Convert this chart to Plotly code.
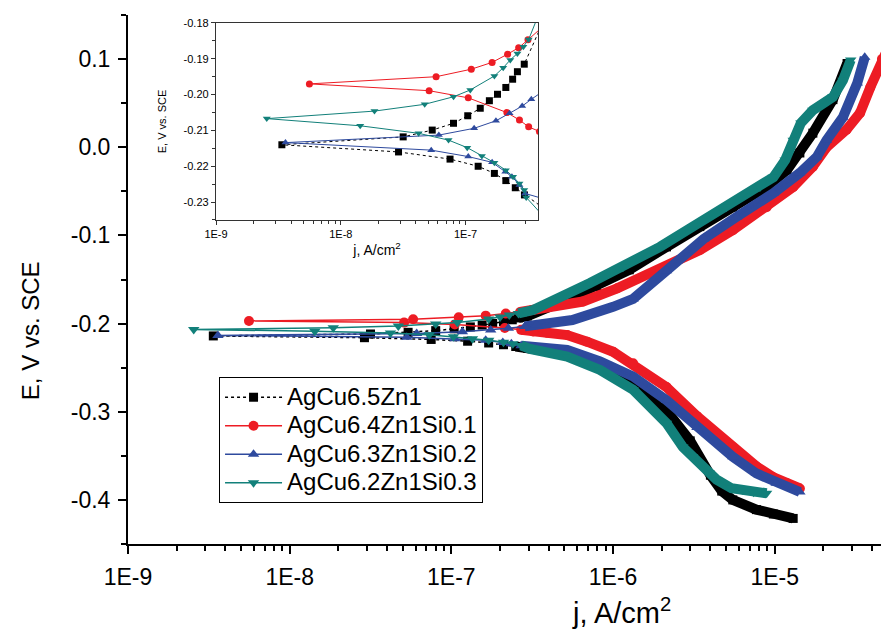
import plotly.graph_objects as go

# Potentiodynamic polarisation curves, sweep order: cathodic end -> E_corr -> anodic end
names = ["AgCu6.5Zn1", "AgCu6.4Zn1Si0.1", "AgCu6.3Zn1Si0.2", "AgCu6.2Zn1Si0.3"]

j_zn1 = [1.3e-5, 9.8e-6, 7.7e-6, 5.5e-6, 4.7e-6, 4.0e-6, 3.0e-6, 2.15e-6, 1.7e-6, 1.33e-6, 8.3e-7, 5.2e-7,
         2.96e-7, 2.5e-7, 2.1e-7, 1.7e-7, 1.26e-7, 7.5e-8, 2.9e-8, 3.37e-9,
         3.16e-8, 5.4e-8, 8.0e-8, 1.04e-7, 1.31e-7, 1.55e-7, 1.8e-7, 2.1e-7, 2.38e-7, 2.6e-7, 2.95e-7,
         5.0e-7, 7.9e-7, 1.26e-6, 2.14e-6, 3.44e-6, 5.5e-6, 8.9e-6, 1.19e-5, 1.43e-5, 1.72e-5, 2.29e-5, 2.8e-5]
e_zn1 = [-0.421, -0.416, -0.411, -0.400, -0.390, -0.372, -0.333, -0.299, -0.281, -0.266, -0.249, -0.234,
         -0.228, -0.226, -0.224, -0.222, -0.220, -0.218, -0.216, -0.214,
         -0.2118, -0.2099, -0.208, -0.2059, -0.2038, -0.2017, -0.1999, -0.198, -0.1957, -0.1936, -0.1915,
         -0.174, -0.158, -0.139, -0.113, -0.090, -0.068, -0.045, -0.026, -0.0065, 0.016, 0.054, 0.095]

j_si01 = [1.43e-5, 1.19e-5, 9.75e-6, 7.7e-6, 5.5e-6, 3.3e-6, 2.14e-6, 1.33e-6, 1.0e-6, 6.9e-7, 5.2e-7,
          3.9e-7, 3.2e-7, 2.7e-7, 2.14e-7, 1.05e-7, 5.1e-8, 5.6e-9,
          5.8e-8, 1.11e-7, 1.63e-7, 2.17e-7, 2.66e-7, 3.16e-7, 6.5e-7, 1.06e-6, 1.95e-6, 3.44e-6,
          5.5e-6, 8.9e-6, 1.3e-5, 1.72e-5, 2.09e-5, 2.78e-5, 3.37e-5, 3.9e-5, 4.6e-5, 5.0e-5]
e_si01 = [-0.387, -0.381, -0.374, -0.362, -0.340, -0.305, -0.272, -0.245, -0.232, -0.2205, -0.213,
          -0.2103, -0.209, -0.2071, -0.205, -0.2009, -0.1989, -0.197,
          -0.195, -0.1929, -0.191, -0.1887, -0.1869, -0.1847, -0.175, -0.160, -0.139, -0.1165,
          -0.094, -0.068, -0.045, -0.022, 0.000, 0.020, 0.039, 0.068, 0.100, 0.112]

j_si02 = [1.43e-5, 1.02e-5, 7.7e-6, 5.5e-6, 3.3e-6, 2.14e-6, 1.33e-6, 8.3e-7, 5.2e-7,
          3.0e-7, 2.7e-7, 2.35e-7, 2.08e-7, 1.63e-7, 1.05e-7, 5.3e-8, 3.6e-9,
          6.1e-8, 1.17e-7, 1.75e-7, 2.25e-7, 2.84e-7, 3.36e-7, 5.6e-7, 1.0e-6, 1.33e-6, 2.14e-6,
          3.63e-6, 5.8e-6, 9.8e-6, 1.43e-5, 1.82e-5, 2.09e-5, 2.64e-5, 3.24e-5, 3.6e-5]
e_si02 = [-0.391, -0.381, -0.370, -0.351, -0.318, -0.287, -0.260, -0.243, -0.230,
          -0.2276, -0.2252, -0.2229, -0.2215, -0.2189, -0.2173, -0.2155, -0.2134,
          -0.2113, -0.2094, -0.2073, -0.2052, -0.2032, -0.2013, -0.196, -0.181, -0.172, -0.140,
          -0.104, -0.079, -0.052, -0.029, -0.011, 0.008, 0.034, 0.073, 0.102]

j_si03 = [8.9e-6, 7.4e-6, 6.3e-6, 5.4e-6, 4.37e-6, 3.1e-6, 2.7e-6, 2.14e-6, 1.33e-6, 8.3e-7, 5.2e-7,
          3.06e-7, 2.95e-7, 2.7e-7, 2.4e-7, 2.1e-7, 1.7e-7, 1.35e-7, 1.03e-7, 7.3e-8, 4.2e-8, 1.43e-8, 2.55e-9,
          1.86e-8, 4.7e-8, 8.0e-8, 1.09e-7, 1.7e-7, 2.0e-7, 2.28e-7, 2.6e-7, 2.9e-7, 3.2e-7,
          7.2e-7, 1.15e-6, 1.95e-6, 3.12e-6, 5.0e-6, 8.1e-6, 9.8e-6, 1.16e-5, 1.3e-5, 1.45e-5,
          1.72e-5, 2.29e-5, 2.64e-5, 2.95e-5]
e_si03 = [-0.3925, -0.3914, -0.3887, -0.3868, -0.377, -0.351, -0.340, -0.313, -0.275, -0.2526, -0.2375,
          -0.2287, -0.2266, -0.2248, -0.2229, -0.2211, -0.219, -0.2171, -0.2148, -0.2127, -0.2108, -0.2087, -0.2067,
          -0.2046, -0.2027, -0.2006, -0.1987, -0.1948, -0.1925, -0.1903, -0.1885, -0.1866, -0.1846,
          -0.154, -0.136, -0.113, -0.090, -0.068, -0.045, -0.034, -0.0145, 0.008, 0.0275,
          0.042, 0.057, 0.076, 0.099]

x_tick_vals = [1e-9, 1e-8, 1e-7, 1e-6, 1e-5]
x_tick_labels = ["1E-9", "1E-8", "1E-7", "1E-6", "1E-5"]
y_tick_vals = [-0.4, -0.3, -0.2, -0.1, 0.0, 0.1]
y_tick_labels = ["-0.4", "-0.3", "-0.2", "-0.1", "0.0", "0.1"]
inset_y_vals = [-0.23, -0.22, -0.21, -0.20, -0.19, -0.18]
inset_y_labels = ["-0.23", "-0.22", "-0.21", "-0.20", "-0.19", "-0.18"]

series = [(j_zn1, e_zn1), (j_si01, e_si01), (j_si02, e_si02), (j_si03, e_si03)]
colors = ["#000000", "#ED1C24", "#2E4A9E", "#12807A"]
symbols = ["square", "circle", "triangle-up", "triangle-down"]
sizes = [9, 10, 10, 10]
dashes = ["dot", "solid", "solid", "solid"]

FONT = "Liberation Sans, Arial, sans-serif"
BAND_FROM = 2.5e-7

fig = go.Figure()

for name, (j, e), c, sym, sz, dash in zip(names, series, colors, symbols, sizes, dashes):
    # dense part of the curve drawn as a thick band
    k = j.index(min(j))
    bx, by = [], []
    for jj, ee in zip(j[:k + 1], e[:k + 1]):
        if jj >= BAND_FROM:
            bx.append(jj); by.append(ee)
    bx.append(None); by.append(None)
    for jj, ee in zip(j[k:], e[k:]):
        if jj >= BAND_FROM:
            bx.append(jj); by.append(ee)
    fig.add_trace(go.Scatter(x=bx, y=by, mode="lines", line=dict(color=c, width=10),
                             showlegend=False, hoverinfo="skip"))
    # legend text larger than the legend row height, as in the original
    fig.add_trace(go.Scatter(x=j, y=e, mode="lines+markers",
                             name='<span style="font-size:24px">%s</span>' % name,
                             line=dict(color=c, width=1.5, dash=dash),
                             marker=dict(symbol=sym, size=sz, color=c)))

# inset
for name, (j, e), c, sym, dash in zip(names, series, colors, symbols, dashes):
    fig.add_trace(go.Scatter(x=j, y=e, mode="lines+markers", xaxis="x2", yaxis="y2",
                             line=dict(color=c, width=1, dash=dash),
                             marker=dict(symbol=sym, size=7, color=c),
                             showlegend=False))

minor_x = [m * 10.0 ** p for p in range(-9, -4) for m in range(2, 10)]
minor_x_in = [m * 10.0 ** p for p in range(-9, -6) for m in range(2, 10)]

fig.update_layout(
    width=881, height=634,
    margin=dict(l=128, r=0, t=15, b=90, pad=0),
    paper_bgcolor="white", plot_bgcolor="white",
    font=dict(family=FONT, color="black"),
    xaxis=dict(type="log", range=[-9, -4.343], domain=[0, 1], automargin=False,
               showline=True, linecolor="black", linewidth=2, mirror=False,
               showgrid=False, zeroline=False,
               ticks="outside", ticklen=8, tickwidth=2, tickcolor="black", ticklabelstandoff=3,
               tickvals=x_tick_vals, ticktext=x_tick_labels, tickfont=dict(size=23),
               minor=dict(tickvals=minor_x, ticks="outside", ticklen=5, tickwidth=1.5, tickcolor="black")),
    yaxis=dict(range=[-0.45, 0.15], domain=[0, 1], automargin=False,
               showline=True, linecolor="black", linewidth=2, mirror=False,
               showgrid=False, zeroline=False,
               ticks="outside", ticklen=8, tickwidth=2, tickcolor="black", ticklabelstandoff=3,
               tickvals=y_tick_vals, ticktext=y_tick_labels, tickfont=dict(size=23),
               minor=dict(dtick=0.05, tick0=0, ticks="outside", ticklen=5, tickwidth=1.5, tickcolor="black")),
    xaxis2=dict(type="log", range=[-9, -6.42], domain=[0.1169, 0.5445], anchor="y2", automargin=False,
                showline=True, linecolor="#333", linewidth=1.3, mirror=True,
                showgrid=False, zeroline=False,
                ticks="outside", ticklen=4, tickwidth=1, tickcolor="#333",
                tickvals=x_tick_vals[:3], ticktext=x_tick_labels[:3], tickfont=dict(size=11),
                minor=dict(tickvals=minor_x_in, ticks="outside", ticklen=3, tickwidth=1, tickcolor="#333"),
                title=dict(text="j, A/cm<sup>2</sup>", font=dict(size=14), standoff=3)),
    yaxis2=dict(range=[-0.235, -0.18], domain=[0.6125, 0.9849], anchor="x2", automargin=False,
                showline=True, linecolor="#333", linewidth=1.3, mirror=True,
                showgrid=False, zeroline=False,
                ticks="outside", ticklen=4, tickwidth=1, tickcolor="#333",
                tickvals=inset_y_vals, ticktext=inset_y_labels, tickfont=dict(size=11),
                minor=dict(dtick=0.005, tick0=-0.18, ticks="outside", ticklen=3, tickwidth=1, tickcolor="#333"),
                title=dict(text="E, V vs. SCE", font=dict(size=11), standoff=14)),
    legend=dict(x=0.1209, y=0.3157, xanchor="left", yanchor="top",
                bgcolor="white", bordercolor="black", borderwidth=1,
                font=dict(size=19.6, family=FONT), itemwidth=57, tracegroupgap=0),
    showlegend=True,
)

# main axis titles sit off-centre in the original (the figure was cropped), so place them as annotations
fig.add_annotation(text="j, A/cm<sup>2</sup>", xref="paper", yref="paper", x=0.655, y=-0.127,
                   xanchor="center", yanchor="middle", showarrow=False, font=dict(size=29))
fig.add_annotation(text="E, V vs. SCE", xref="paper", yref="paper", x=-0.130, y=0.4026,
                   xanchor="center", yanchor="middle", textangle=-90, showarrow=False, font=dict(size=24))

# the page body has a default 8px margin; drop it so the figure sits at the window origin
fig.write_html("out.html", config={"displayModeBar": False},
               post_script="document.body.style.margin='0';")
